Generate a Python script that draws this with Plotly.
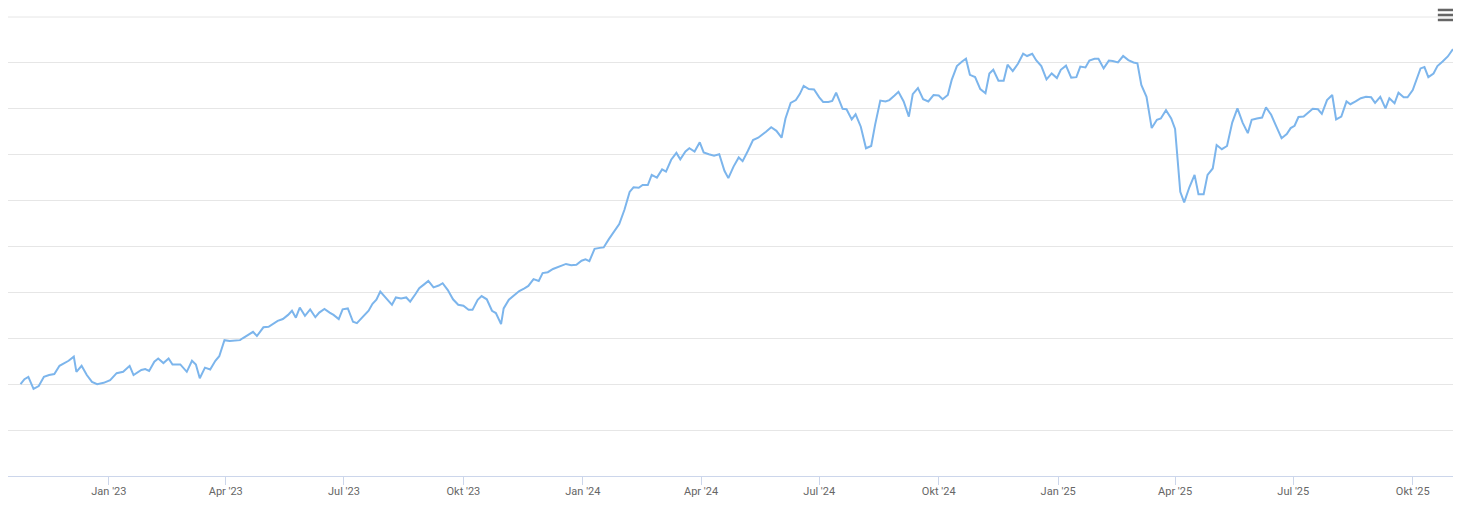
import plotly.graph_objects as go

# ---- data (index) ----
dates_2022 = ["2022-10-25", "2022-10-28", "2022-10-31", "2022-11-04", "2022-11-08", "2022-11-12",
              "2022-11-16", "2022-11-20", "2022-11-24", "2022-11-28", "2022-12-01", "2022-12-05",
              "2022-12-07", "2022-12-11", "2022-12-15", "2022-12-19", "2022-12-23", "2022-12-28"]
values_2022 = [100.0, 101.1, 101.6, 99.0, 99.6, 101.6,
               102.0, 102.2, 104.0, 104.6, 105.1, 106.0,
               102.7, 104.0, 102.0, 100.5, 100.0, 100.3]

dates_2023 = ["2023-01-02", "2023-01-07", "2023-01-12", "2023-01-17", "2023-01-20", "2023-01-26",
              "2023-01-29", "2023-02-01", "2023-02-05", "2023-02-08", "2023-02-12", "2023-02-16",
              "2023-02-19", "2023-02-25", "2023-03-02", "2023-03-06", "2023-03-09", "2023-03-12",
              "2023-03-16", "2023-03-20", "2023-03-24", "2023-03-27", "2023-03-31", "2023-04-04",
              "2023-04-08", "2023-04-12", "2023-04-14", "2023-04-18", "2023-04-22", "2023-04-25",
              "2023-04-30", "2023-05-04", "2023-05-07", "2023-05-11", "2023-05-15", "2023-05-19",
              "2023-05-22", "2023-05-25", "2023-05-28", "2023-06-01", "2023-06-05", "2023-06-09",
              "2023-06-12", "2023-06-16", "2023-06-20", "2023-06-23", "2023-06-27", "2023-06-30",
              "2023-07-04", "2023-07-08", "2023-07-11", "2023-07-15", "2023-07-18", "2023-07-20",
              "2023-07-23", "2023-07-26", "2023-07-29", "2023-08-03", "2023-08-07", "2023-08-10",
              "2023-08-14", "2023-08-18", "2023-08-21", "2023-08-25", "2023-08-28", "2023-09-01",
              "2023-09-04", "2023-09-08", "2023-09-12", "2023-09-15", "2023-09-19", "2023-09-23",
              "2023-09-27", "2023-10-01", "2023-10-05", "2023-10-08", "2023-10-12", "2023-10-15",
              "2023-10-19", "2023-10-23", "2023-10-26", "2023-10-30", "2023-11-01", "2023-11-05",
              "2023-11-09", "2023-11-13", "2023-11-17", "2023-11-20", "2023-11-24", "2023-11-28",
              "2023-12-01", "2023-12-05", "2023-12-09", "2023-12-14", "2023-12-19", "2023-12-23",
              "2023-12-27", "2023-12-31"]
values_2023 = [100.9, 102.4, 102.7, 104.0, 102.0, 103.1,
               103.3, 102.9, 104.9, 105.6, 104.6, 105.6,
               104.3, 104.3, 102.7, 105.1, 104.3, 101.3,
               103.6, 103.2, 105.1, 106.1, 109.6, 109.4,
               109.5, 109.6, 110.0, 110.7, 111.4, 110.5,
               112.4, 112.5, 113.1, 113.8, 114.2, 115.1,
               116.0, 114.5, 116.7, 114.9, 116.3, 114.6,
               115.6, 116.4, 115.6, 115.1, 114.2, 116.3,
               116.5, 113.6, 113.3, 114.5, 115.3, 116.0,
               117.5, 118.4, 120.2, 118.7, 117.3, 118.9,
               118.7, 118.9, 118.0, 119.6, 120.9, 121.8,
               122.5, 121.1, 121.5, 122.0, 120.5, 118.5,
               117.3, 117.1, 116.2, 116.2, 118.4, 119.2,
               118.5, 116.0, 115.5, 113.1, 116.5, 118.4,
               119.4, 120.3, 120.9, 121.4, 122.9, 122.5,
               124.2, 124.4, 125.1, 125.6, 126.2, 125.9,
               126.0, 126.9]

dates_2024 = ["2024-01-03", "2024-01-06", "2024-01-10", "2024-01-14", "2024-01-17", "2024-01-21",
              "2024-01-25", "2024-01-29", "2024-02-02", "2024-02-06", "2024-02-09", "2024-02-13",
              "2024-02-16", "2024-02-20", "2024-02-23", "2024-02-27", "2024-03-02", "2024-03-05",
              "2024-03-09", "2024-03-13", "2024-03-16", "2024-03-20", "2024-03-23", "2024-03-27",
              "2024-03-31", "2024-04-03", "2024-04-07", "2024-04-11", "2024-04-15", "2024-04-19",
              "2024-04-22", "2024-04-26", "2024-04-30", "2024-05-03", "2024-05-07", "2024-05-11",
              "2024-05-15", "2024-05-18", "2024-05-21", "2024-05-25", "2024-05-29", "2024-06-02",
              "2024-06-05", "2024-06-09", "2024-06-13", "2024-06-16", "2024-06-19", "2024-06-23",
              "2024-06-27", "2024-07-01", "2024-07-04", "2024-07-08", "2024-07-11", "2024-07-14",
              "2024-07-19", "2024-07-22", "2024-07-26", "2024-07-29", "2024-08-02", "2024-08-06",
              "2024-08-10", "2024-08-13", "2024-08-17", "2024-08-21", "2024-08-24", "2024-08-28",
              "2024-08-31", "2024-09-04", "2024-09-08", "2024-09-11", "2024-09-15", "2024-09-19",
              "2024-09-23", "2024-09-27", "2024-10-01", "2024-10-04", "2024-10-08", "2024-10-11",
              "2024-10-15", "2024-10-19", "2024-10-22", "2024-10-25", "2024-10-29", "2024-11-02",
              "2024-11-06", "2024-11-09", "2024-11-12", "2024-11-16", "2024-11-20", "2024-11-23",
              "2024-11-27", "2024-12-01", "2024-12-05", "2024-12-08", "2024-12-12", "2024-12-15",
              "2024-12-19", "2024-12-23", "2024-12-27", "2024-12-31"]
values_2024 = [127.2, 126.8, 129.5, 129.7, 129.8, 131.6,
               133.4, 134.9, 138.0, 141.9, 142.9, 142.8,
               143.4, 143.4, 145.6, 145.0, 146.8, 146.3,
               148.9, 150.4, 149.0, 150.7, 151.4, 150.7,
               152.7, 150.5, 150.1, 149.8, 150.1, 146.5,
               144.9, 147.4, 149.4, 148.6, 150.8, 153.2,
               153.7, 154.3, 155.0, 156.0, 155.2, 153.7,
               157.9, 161.3, 161.9, 163.2, 165.0, 164.3,
               164.2, 162.5, 161.5, 161.5, 161.7, 163.5,
               160.0, 159.9, 157.7, 158.8, 156.1, 151.4,
               151.9, 156.5, 161.8, 161.6, 161.9, 162.9,
               163.7, 161.6, 158.3, 163.2, 164.5, 162.1,
               161.6, 163.0, 162.9, 162.1, 163.0, 166.3,
               169.3, 170.3, 170.9, 167.4, 166.9, 164.3,
               163.4, 167.7, 168.5, 166.1, 166.1, 169.6,
               168.2, 169.8, 172.0, 171.5, 172.0, 170.6,
               169.3, 166.4, 167.7, 166.7]

dates_2025 = ["2025-01-03", "2025-01-07", "2025-01-11", "2025-01-15", "2025-01-18", "2025-01-22",
              "2025-01-25", "2025-01-29", "2025-02-01", "2025-02-05", "2025-02-09", "2025-02-12",
              "2025-02-16", "2025-02-20", "2025-02-24", "2025-02-28", "2025-03-03", "2025-03-06",
              "2025-03-10", "2025-03-14", "2025-03-18", "2025-03-21", "2025-03-25", "2025-03-29",
              "2025-04-01", "2025-04-05", "2025-04-08", "2025-04-12", "2025-04-16", "2025-04-19",
              "2025-04-23", "2025-04-26", "2025-04-30", "2025-05-03", "2025-05-07", "2025-05-11",
              "2025-05-15", "2025-05-19", "2025-05-23", "2025-05-27", "2025-05-30", "2025-06-03",
              "2025-06-07", "2025-06-10", "2025-06-14", "2025-06-18", "2025-06-22", "2025-06-26",
              "2025-06-29", "2025-07-02", "2025-07-05", "2025-07-09", "2025-07-13", "2025-07-16",
              "2025-07-20", "2025-07-23", "2025-07-27", "2025-07-31", "2025-08-03", "2025-08-07",
              "2025-08-11", "2025-08-14", "2025-08-18", "2025-08-22", "2025-08-26", "2025-08-30",
              "2025-09-02", "2025-09-06", "2025-09-10", "2025-09-13", "2025-09-17", "2025-09-20",
              "2025-09-24", "2025-09-27", "2025-10-01", "2025-10-04", "2025-10-07", "2025-10-10",
              "2025-10-13", "2025-10-17", "2025-10-20", "2025-10-24", "2025-10-28", "2025-11-01"]
values_2025 = [168.5, 169.4, 166.8, 166.9, 169.2, 169.0,
               170.5, 170.9, 170.9, 168.8, 170.5, 170.4,
               170.1, 171.5, 170.6, 170.1, 169.9, 165.2,
               162.6, 155.8, 157.6, 157.9, 159.7, 157.9,
               155.6, 141.9, 139.6, 142.9, 145.6, 141.4,
               141.4, 145.6, 147.0, 152.1, 151.2, 151.9,
               157.0, 160.1, 157.0, 154.7, 157.6, 157.9,
               158.1, 160.3, 158.7, 156.1, 153.6, 154.5,
               155.8, 156.3, 158.2, 158.3, 159.2, 160.0,
               159.9, 158.9, 161.9, 163.0, 157.7, 158.3,
               161.6, 161.0, 161.6, 162.3, 162.6, 162.5,
               161.3, 162.6, 160.1, 162.3, 161.2, 163.5,
               162.5, 162.5, 164.1, 166.7, 168.8, 169.1,
               166.9, 167.7, 169.3, 170.3, 171.4, 173.0]

tick_dates = ["2023-01-01", "2023-04-01", "2023-07-01", "2023-10-01",
              "2024-01-01", "2024-04-01", "2024-07-01", "2024-10-01",
              "2025-01-01", "2025-04-01", "2025-07-01", "2025-10-01"]
tick_labels = ["Jan '23", "Apr '23", "Jul '23", "Okt '23",
               "Jan '24", "Apr '24", "Jul '24", "Okt '24",
               "Jan '25", "Apr '25", "Jul '25", "Okt '25"]

dates = dates_2022 + dates_2023 + dates_2024 + dates_2025
values = values_2022 + values_2023 + values_2024 + values_2025

fig = go.Figure()
fig.add_trace(go.Scatter(
    x=dates, y=values, mode="lines",
    line=dict(color="#7cb5ec", width=2),
    hoverinfo="x+y", showlegend=False,
))

shapes = [
    # top grid line at the upper edge of the plot area
    dict(type="line", xref="paper", yref="paper", x0=0, x1=1, y0=1, y1=1,
         line=dict(color="#e6e6e6", width=1), layer="below"),
]
# export-menu icon (three bars)
for yy in (1.0153, 1.0044, 0.9935):
    shapes.append(dict(type="line", xref="paper", yref="paper",
                       x0=0.9895, x1=1.0, y0=yy, y1=yy,
                       line=dict(color="#666666", width=2.5)))

# the page body adds an 8px offset; figure size/margins compensate for it
fig.update_layout(
    width=1461, height=498,
    margin=dict(l=0, r=16, t=9, b=30),
    paper_bgcolor="white", plot_bgcolor="white",
    font=dict(family="Roboto, Arial, sans-serif", size=11, color="#666666"),
    shapes=shapes,
    xaxis=dict(
        type="date",
        range=["2022-10-15 08:00", "2025-11-01"],
        tickvals=tick_dates, ticktext=tick_labels,
        showgrid=False, zeroline=False,
        showline=True, linecolor="#ccd6eb", linewidth=1,
        ticks="outside", ticklen=8, tickcolor="#ccd6eb", tickwidth=1,
        tickfont=dict(size=11, color="#666666"),
        ticklabelstandoff=-3,
        automargin=False,
    ),
    yaxis=dict(
        range=[80, 180], dtick=10, tick0=80,
        showgrid=True, gridcolor="#e6e6e6", gridwidth=1,
        showticklabels=False, zeroline=False, showline=False,
        automargin=False,
    ),
)

fig.write_html("out.html")
